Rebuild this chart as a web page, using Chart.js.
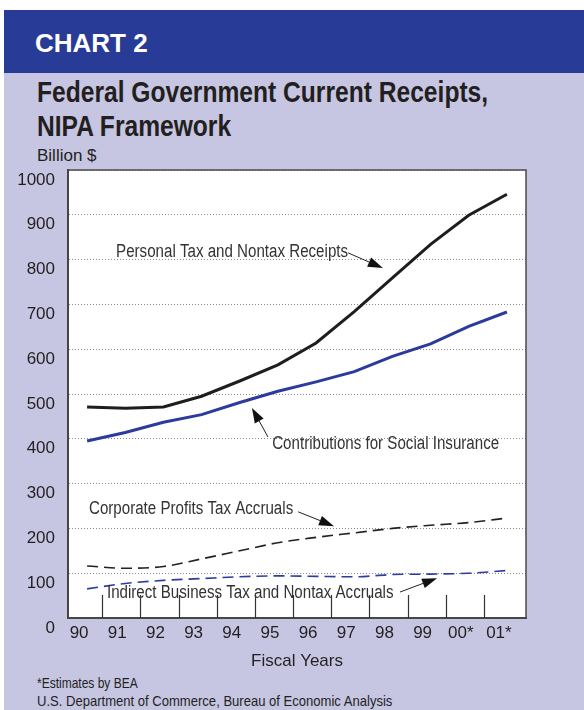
<!DOCTYPE html>
<html>
<head>
<meta charset="utf-8">
<script src="https://cdn.jsdelivr.net/npm/chart.js@4.4.1/dist/chart.umd.min.js"></script>
<style>
  body { margin: 0; width: 584px; height: 710px; position: relative; overflow: hidden; background: #fff; font-family: "Liberation Sans", Arial, sans-serif; }
  #band { position: absolute; left: 4px; top: 10px; width: 580px; height: 63px; background: #283b96; }
  #panel { position: absolute; left: 4px; top: 73px; width: 580px; height: 637px; background: #c6c6e2; }
  .txt { position: absolute; white-space: nowrap; transform-origin: 0 0; color: #231f20; }
  #chartno { left: 35px; top: 28px; font: bold 26px "Liberation Sans", Arial, sans-serif; color: #fff; }
  #title { left: 37px; top: 75px; font: bold 30px/34px "Liberation Sans", Arial, sans-serif; transform: scaleX(0.82); }
  #unit { left: 37px; top: 146px; font: 17px "Liberation Sans", Arial, sans-serif; }
  #note1 { left: 37px; top: 674px; font: 15px "Liberation Sans", Arial, sans-serif; transform: scaleX(0.8); }
  #note2 { left: 37px; top: 692px; font: 15px "Liberation Sans", Arial, sans-serif; transform: scaleX(0.87); }
  canvas { position: absolute; left: 0; top: 0; }
</style>
</head>
<body>
<div id="band"></div>
<div id="panel"></div>
<div class="txt" id="chartno">CHART 2</div>
<div class="txt" id="title">Federal Government Current Receipts,<br>NIPA Framework</div>
<div class="txt" id="unit">Billion $</div>
<div class="txt" id="note1">*Estimates by BEA</div>
<div class="txt" id="note2">U.S. Department of Commerce, Bureau of Economic Analysis</div>
<canvas id="chart" width="584" height="710"></canvas>
<script>
// fiscal years and the four receipt series (billion $)
const years = ['90', '91', '92', '93', '94', '95', '96', '97', '98', '99', '00*', '01*']
const personalTax = [471, 468, 471, 495, 529, 565, 614, 684, 759, 834, 899, 946]
const socialInsurance = [395, 414, 437, 454, 481, 506, 527, 550, 584, 612, 651, 683]
const corporateProfits = [116, 111, 115, 132, 150, 168, 180, 190, 200, 207, 213, 223]
const indirectBusiness = [65, 77, 84, 88, 92, 94, 93, 92, 97, 98, 100, 106]
const yMin = 0
const yMax = 1000
const yStep = 100

// callout labels: text anchor and arrow, in (year index, value)
const notes = [
  { text: 'Personal Tax and Nontax Receipts', at: [0.76, 817], from: [6.84, 815], tip: [7.75, 781] },
  { text: 'Contributions for Social Insurance', at: [4.85, 388], from: [4.74, 404], tip: [4.32, 469] },
  { text: 'Corporate Profits Tax Accruals', at: [0.05, 243], from: [5.53, 237], tip: [6.47, 205] },
  { text: 'Indirect Business Tax and Nontax Accruals', at: [0.52, 56], from: [8.2, 58], tip: [9.17, 89] }
]

const ink = '#231f20'
const font = '"Liberation Sans", Arial, sans-serif'

const framePlugin = {
  id: 'frame',
  beforeDraw(chart) {
    const a = chart.chartArea
    const ctx = chart.ctx
    ctx.save()
    ctx.fillStyle = '#ffffff'
    ctx.fillRect(a.left, a.top, a.right - a.left, a.bottom - a.top)
    ctx.restore()
  },
  afterDraw(chart) {
    const a = chart.chartArea
    const ctx = chart.ctx
    const x = chart.scales.x
    const y = chart.scales.y
    ctx.save()
    // frame
    ctx.strokeStyle = '#4a4a4a'
    ctx.lineWidth = 1.5
    ctx.strokeRect(a.left, a.top, a.right - a.left, a.bottom - a.top)

    // short year dividers rising from the bottom axis
    ctx.strokeStyle = '#333'
    ctx.lineWidth = 1.2
    for (let i = 0; i < years.length - 1; i++) {
      const px = Math.round((x.getPixelForValue(i) + x.getPixelForValue(i + 1)) / 2) - 4 + 0.5
      ctx.beginPath()
      ctx.moveTo(px, a.bottom)
      ctx.lineTo(px, a.bottom - 23)
      ctx.stroke()
    }

    // callouts
    notes.forEach(n => {
      const tx = x.getPixelForValue(n.at[0])
      const ty = y.getPixelForValue(n.at[1])
      ctx.save()
      ctx.font = '18px ' + font
      ctx.fillStyle = '#333'
      ctx.textBaseline = 'middle'
      ctx.translate(tx, ty)
      ctx.scale(0.84, 1)
      ctx.fillText(n.text, 0, 0)
      ctx.restore()

      const fx = x.getPixelForValue(n.from[0])
      const fy = y.getPixelForValue(n.from[1])
      const px = x.getPixelForValue(n.tip[0])
      const py = y.getPixelForValue(n.tip[1])
      const ang = Math.atan2(py - fy, px - fx)
      const len = 15
      const half = 5
      const bx = px - len * Math.cos(ang)
      const by = py - len * Math.sin(ang)
      ctx.strokeStyle = '#222'
      ctx.lineWidth = 1
      ctx.beginPath()
      ctx.moveTo(fx, fy)
      ctx.lineTo(bx, by)
      ctx.stroke()
      ctx.fillStyle = '#111'
      ctx.beginPath()
      ctx.moveTo(px, py)
      ctx.lineTo(bx + half * Math.sin(ang), by - half * Math.cos(ang))
      ctx.lineTo(bx - half * Math.sin(ang), by + half * Math.cos(ang))
      ctx.closePath()
      ctx.fill()
    })
    ctx.restore()
  }
}

var ctx = document.getElementById('chart').getContext('2d')
var chart = new Chart(ctx, {
  type: 'line',
  data: {
    labels: years,
    datasets: [{
      label: 'Personal Tax and Nontax Receipts',
      data: personalTax,
      borderColor: '#1e1e1e',
      borderWidth: 3,
      tension: 0
    }, {
      label: 'Contributions for Social Insurance',
      data: socialInsurance,
      borderColor: '#2b3a9c',
      borderWidth: 3,
      tension: 0
    }, {
      label: 'Corporate Profits Tax Accruals',
      data: corporateProfits,
      borderColor: '#222222',
      borderWidth: 1.6,
      borderDash: [11, 6],
      cubicInterpolationMode: 'monotone'
    }, {
      label: 'Indirect Business Tax and Nontax Accruals',
      data: indirectBusiness,
      borderColor: '#2c3d9e',
      borderWidth: 1.6,
      borderDash: [11, 6],
      cubicInterpolationMode: 'monotone'
    }]
  },
  options: {
    responsive: false,
    animation: false,
    events: [],
    elements: { point: { radius: 0 } },
    layout: { padding: { left: 0, top: 170, right: 58, bottom: 0 } },
    plugins: { legend: { display: false }, tooltip: { enabled: false } },
    scales: {
      x: {
        type: 'category',
        offset: true,
        grid: { display: false, drawTicks: false },
        border: { display: true, color: '#3c3c3c', width: 2 },
        ticks: {
          color: ink,
          font: { family: font, size: 17 },
          padding: 5,
          labelOffset: -8,
          maxRotation: 0,
          autoSkip: false
        },
        title: {
          display: true,
          text: 'Fiscal Years',
          color: ink,
          font: { family: font, size: 17 },
          padding: { top: 0, bottom: 38 }
        },
        afterFit(scale) { scale.height = 92 }
      },
      y: {
        min: yMin,
        max: yMax,
        grid: { color: '#8a8a8a', lineWidth: 1, drawTicks: false },
        border: { display: true, color: '#3c3c3c', width: 2, dash: [1, 2] },
        ticks: {
          stepSize: yStep,
          color: ink,
          font: { family: font, size: 17 },
          padding: 13,
          labelOffset: 10,
          callback: v => String(v)
        },
        afterFit(scale) { scale.width = 68 }
      }
    }
  },
  plugins: [framePlugin]
})
</script>
</body>
</html>
